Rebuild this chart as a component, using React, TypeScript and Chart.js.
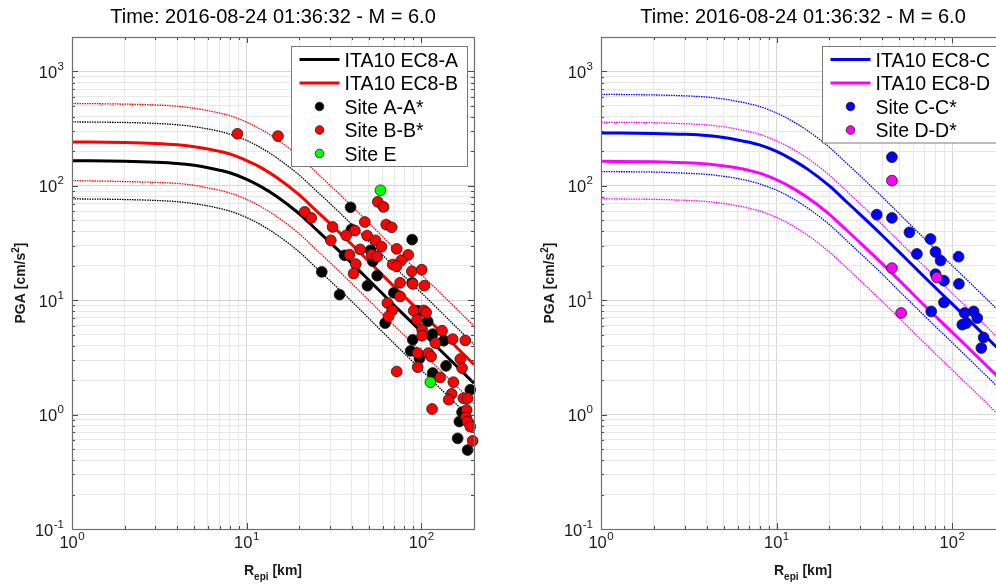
import { useEffect, useRef } from 'react';
import Chart from 'chart.js/auto';
import type { ChartDataset, Plugin } from 'chart.js';

type Point = [number, number];

const FONT = '"Liberation Sans", Arial, Helvetica, sans-serif';
const TITLE = 'Time: 2016-08-24 01:36:32 - M = 6.0';

// grid / tick positions
const xGridValues = [1, 2, 3, 4, 5, 6, 7, 8, 9, 10, 20, 30, 40, 50, 60, 70, 80, 90, 100, 200];
const yGridValues = [
  0.1, 0.2, 0.3, 0.4, 0.5, 0.6, 0.7, 0.8, 0.9,
  1, 2, 3, 4, 5, 6, 7, 8, 9,
  10, 20, 30, 40, 50, 60, 70, 80, 90,
  100, 200, 300, 400, 500, 600, 700, 800, 900,
  1000, 2000,
];
const xLabelValues = [1, 10, 100];
const xLabelExponents = ['0', '1', '2'];
const yLabelValues = [0.1, 1, 10, 100, 1000];
const yLabelExponents = ['-1', '0', '1', '2', '3'];

// distances [km] where the ITA10 curves were read
const curveDistances = [1, 2, 3, 4, 5, 6, 7, 8, 10, 12, 15, 20, 25, 30, 40, 50, 70, 100, 150, 200];

const ec8A = [166, 164, 161, 157, 151, 144, 137, 130, 114, 99, 80, 57, 41.5, 32, 21, 15, 9.0, 5.3, 2.9, 1.88];
const ec8APlus = [362, 358, 351, 342, 329, 314, 299, 283, 249, 216, 174, 124, 90.5, 70, 45.8, 32.7, 19.6, 11.6, 6.32, 4.1];
const ec8AMinus = [76.9, 75.9, 74.5, 72.7, 69.9, 66.7, 63.4, 60.2, 52.8, 45.8, 37.0, 26.4, 19.2, 14.8, 9.72, 6.95, 4.17, 2.45, 1.34, 0.87];
const ec8B = [242, 239, 235, 229, 220, 210, 200, 190, 166, 145, 117, 83.2, 60.6, 46.7, 30.7, 21.9, 13.1, 7.74, 4.23, 2.74];
const ec8BPlus = [525, 518, 509, 496, 477, 455, 433, 411, 360, 313, 253, 180, 131, 101, 66.4, 47.4, 28.4, 16.7, 9.16, 5.94];
const ec8BMinus = [111, 109, 107, 105, 101, 96, 91.4, 86.7, 76.0, 66.0, 53.4, 38.0, 27.7, 21.3, 14.0, 10.0, 6.0, 3.54, 1.93, 1.25];
const ec8C = [290, 287, 282, 275, 264, 252, 240, 228, 200, 173, 140, 99.8, 72.6, 56, 36.8, 26.3, 15.8, 9.28, 5.08, 3.29];
const ec8CPlus = [631, 623, 612, 597, 574, 547, 521, 494, 433, 376, 304, 217, 158, 122, 79.8, 57, 34.2, 20.1, 11.0, 7.14];
const ec8CMinus = [133, 132, 129, 126, 121, 116, 110, 104, 91.5, 79.5, 64.2, 45.8, 33.3, 25.7, 16.9, 12.0, 7.23, 4.26, 2.33, 1.51];
const ec8D = [164, 162, 159, 155, 149, 143, 136, 129, 113, 98, 79, 56.4, 41.1, 31.7, 20.8, 14.9, 8.9, 5.25, 2.87, 1.86];
const ec8DPlus = [360, 356, 349, 341, 328, 312, 297, 282, 247, 215, 174, 124, 90.1, 69.4, 45.6, 32.6, 19.5, 11.5, 6.29, 4.08];
const ec8DMinus = [77.0, 76.1, 74.7, 72.8, 70.1, 66.8, 63.6, 60.3, 52.9, 45.9, 37.1, 26.4, 19.3, 14.8, 9.74, 6.96, 4.18, 2.46, 1.35, 0.87];

// recorded PGA [Repi km, cm/s2]
const siteAA: Point[] = [
  [39.3, 64.9], [39.8, 41.7], [88.5, 33.9], [51.1, 27.3], [36.3, 24.7], [52.7, 21.9],
  [26.9, 17.7], [55.8, 16.4], [88.5, 14.2], [49.1, 13.4], [34.0, 11.2], [69.5, 11.6],
  [95.2, 8.09], [62.0, 6.31], [108.7, 6.52], [116.1, 5.06], [89.2, 4.51], [134.1, 4.42],
  [86.9, 3.61], [97.5, 3.1], [138.4, 2.67], [116.1, 2.31], [190.5, 1.65], [170.9, 1.05],
  [164.9, 0.87], [161.2, 0.62], [183.9, 0.49],
];
const siteBB: Point[] = [
  [8.85, 285], [15.1, 272], [56.3, 72.4], [60.7, 65.4], [21.5, 59.2], [23.4, 52.4],
  [47.4, 48.3], [62.9, 45.8], [67.6, 43.4], [31.0, 43.7], [41.6, 40.6], [37.1, 36.9],
  [48.9, 36.7], [30.3, 33.4], [54.6, 33.4], [44.6, 27.8], [59.1, 29.4], [72.2, 28.1],
  [38.8, 25.0], [52.0, 25.0], [55.8, 24.0], [84.0, 24.9], [76.5, 22.2], [68.5, 20.5],
  [42.1, 20.7], [72.0, 19.8], [88.1, 17.9], [100.4, 18.5], [40.9, 17.1], [89.2, 13.9],
  [104.0, 13.4], [75.5, 14.2], [75.5, 10.8], [63.9, 9.45], [68.0, 8.14], [64.8, 7.21],
  [90.4, 8.09], [103.1, 8.14], [106.4, 7.82], [94.5, 6.75], [100.9, 5.52], [131.3, 5.41],
  [100.9, 4.89], [120.2, 4.22], [151.0, 4.57], [178.3, 4.45], [95.2, 3.45], [109.6, 3.45],
  [113.6, 3.22], [167.1, 3.06], [170.9, 2.55], [95.2, 2.6], [72.2, 2.38], [127.9, 2.11],
  [152.4, 1.92], [149.0, 1.52], [143.2, 1.35], [173.8, 1.39], [183.9, 1.39], [115.1, 1.12],
  [181.5, 1.1], [179.9, 0.95], [183.9, 0.87], [190.5, 0.785], [196.5, 0.59],
];
const siteE: Point[] = [[58.3, 91.4], [112.6, 1.92]];
const siteCC: Point[] = [
  [45.4, 178], [37.2, 56.0], [45.4, 52.4], [57.1, 39.2], [75.3, 34.3], [63.0, 25.4],
  [80.4, 26.4], [85.9, 22.2], [108.8, 24.0], [80.4, 16.9], [89.8, 14.8], [109.3, 13.9],
  [89.8, 9.57], [76.0, 7.98], [117.7, 7.73], [132.5, 7.98], [139.0, 6.98], [114.2, 6.11],
  [120.3, 6.31], [151.1, 4.72], [146.6, 3.82],
];
const siteDD: Point[] = [[45.4, 111], [45.4, 19.1], [81.9, 15.8], [51.2, 7.73]];

interface CurveSet { mean: number[]; upper: number[]; lower: number[]; color: string }
interface SiteSet { points: Point[]; color: string }
interface LegendItem { label: string; color: string; kind: 'line' | 'dot' }
interface PanelSpec {
  left: number;
  width: number;
  padLeft: number;
  padRight: number;
  curves: CurveSet[];
  sites: SiteSet[];
  legend: LegendItem[];
}

const CANVAS_HEIGHT = 587;
const PLOT_TOP = 37;
const X_AXIS_HEIGHT = 58;
const Y_AXIS_WIDTH = 72;

const leftPanel: PanelSpec = {
  left: 0,
  width: 498,
  padLeft: 0,
  padRight: 24,
  curves: [
    { mean: ec8A, upper: ec8APlus, lower: ec8AMinus, color: '#000000' },
    { mean: ec8B, upper: ec8BPlus, lower: ec8BMinus, color: '#ff0000' },
  ],
  sites: [
    { points: siteAA, color: '#000000' },
    { points: siteBB, color: '#ff0000' },
    { points: siteE, color: '#00ff00' },
  ],
  legend: [
    { label: 'ITA10 EC8-A', color: '#000000', kind: 'line' },
    { label: 'ITA10 EC8-B', color: '#ff0000', kind: 'line' },
    { label: 'Site A-A*', color: '#000000', kind: 'dot' },
    { label: 'Site B-B*', color: '#ff0000', kind: 'dot' },
    { label: 'Site E', color: '#00ff00', kind: 'dot' },
  ],
};

const rightPanel: PanelSpec = {
  left: 498,
  width: 520,
  padLeft: 31,
  padRight: 13,
  curves: [
    { mean: ec8C, upper: ec8CPlus, lower: ec8CMinus, color: '#0000ff' },
    { mean: ec8D, upper: ec8DPlus, lower: ec8DMinus, color: '#ff00ff' },
  ],
  sites: [
    { points: siteCC, color: '#0000ff' },
    { points: siteDD, color: '#ff00ff' },
  ],
  legend: [
    { label: 'ITA10 EC8-C', color: '#0000ff', kind: 'line' },
    { label: 'ITA10 EC8-D', color: '#ff00ff', kind: 'line' },
    { label: 'Site C-C*', color: '#0000ff', kind: 'dot' },
    { label: 'Site D-D*', color: '#ff00ff', kind: 'dot' },
  ],
};

function isDecade(v: number): boolean {
  const l = Math.log10(v);
  return Math.abs(l - Math.round(l)) < 1e-9;
}

function gridColor(ctx: any): string {
  const v = ctx.tick ? ctx.tick.value : 1;
  return isDecade(v) ? '#d6d6d6' : '#e8e8e8';
}

function drawPower(
  ctx: CanvasRenderingContext2D,
  x: number,
  baseline: number,
  exp: string,
  align: 'center' | 'right',
) {
  const baseFont = `16.5px ${FONT}`;
  const supFont = `11.5px ${FONT}`;
  ctx.font = baseFont;
  const bw = ctx.measureText('10').width;
  ctx.font = supFont;
  const ew = ctx.measureText(exp).width;
  const total = bw + ew + 0.5;
  const x0 = align === 'center' ? x - total / 2 : x - total;
  ctx.textAlign = 'left';
  ctx.textBaseline = 'alphabetic';
  ctx.font = baseFont;
  ctx.fillText('10', x0, baseline);
  ctx.font = supFont;
  ctx.fillText(exp, x0 + bw + 0.5, baseline - 8);
}

// draws text parts [text, size, shift] one after another, centred on cx
function drawParts(
  ctx: CanvasRenderingContext2D,
  parts: [string, number, number][],
  cx: number,
  baseline: number,
) {
  let total = 0;
  for (const [t, size] of parts) {
    ctx.font = `bold ${size}px ${FONT}`;
    total += ctx.measureText(t).width;
  }
  let x = cx - total / 2;
  ctx.textAlign = 'left';
  ctx.textBaseline = 'alphabetic';
  for (const [t, size, shift] of parts) {
    ctx.font = `bold ${size}px ${FONT}`;
    ctx.fillText(t, x, baseline + shift);
    x += ctx.measureText(t).width;
  }
}

function makeDecor(panel: PanelSpec): Plugin<'scatter'> {
  return {
    id: 'decor',
    afterDraw(chart) {
      const { ctx, chartArea: a } = chart;
      const xs = chart.scales.x;
      const ys = chart.scales.y;
      ctx.save();

      // inward tick marks on all four sides
      ctx.strokeStyle = '#4a4a4a';
      ctx.lineWidth = 1;
      ctx.beginPath();
      for (const v of xGridValues) {
        const px = Math.round(xs.getPixelForValue(v)) + 0.5;
        const len = isDecade(v) ? 6 : 3;
        ctx.moveTo(px, a.bottom);
        ctx.lineTo(px, a.bottom - len);
        ctx.moveTo(px, a.top);
        ctx.lineTo(px, a.top + len);
      }
      for (const v of yGridValues) {
        const py = Math.round(ys.getPixelForValue(v)) + 0.5;
        const len = isDecade(v) ? 6 : 3;
        ctx.moveTo(a.left, py);
        ctx.lineTo(a.left + len, py);
        ctx.moveTo(a.right, py);
        ctx.lineTo(a.right - len, py);
      }
      ctx.stroke();

      // axes box
      ctx.strokeStyle = '#6e6e6e';
      ctx.lineWidth = 1.2;
      ctx.strokeRect(
        Math.round(a.left) + 0.5,
        Math.round(a.top) + 0.5,
        Math.round(a.right - a.left),
        Math.round(a.bottom - a.top),
      );

      // tick labels
      ctx.fillStyle = '#1a1a1a';
      xLabelValues.forEach((v, i) => {
        drawPower(ctx, xs.getPixelForValue(v), a.bottom + 19, xLabelExponents[i], 'center');
      });
      yLabelValues.forEach((v, i) => {
        drawPower(ctx, a.left - 8, ys.getPixelForValue(v) + 6.5, yLabelExponents[i], 'right');
      });

      // axis titles
      const cx = (a.left + a.right) / 2;
      drawParts(ctx, [['R', 14, 0], ['epi', 10, 5], [' [km]', 14, 0]], cx, a.bottom + 46);
      ctx.save();
      ctx.translate(a.left - 47, (a.top + a.bottom) / 2);
      ctx.rotate(-Math.PI / 2);
      drawParts(ctx, [['PGA [cm/s', 14, 0], ['2', 10, -6], [']', 14, 0]], 0, 0);
      ctx.restore();

      // title
      ctx.fillStyle = '#000000';
      ctx.font = `20px ${FONT}`;
      ctx.textAlign = 'center';
      ctx.textBaseline = 'alphabetic';
      ctx.fillText(TITLE, cx, 23);

      // legend
      const items = panel.legend;
      const boxW = 176;
      const pitch = 23.5;
      const boxH = 26 + (items.length - 1) * pitch;
      const bx = Math.round(a.right - 7 - boxW) + 0.5;
      const by = Math.round(a.top + 9) + 0.5;
      ctx.fillStyle = '#ffffff';
      ctx.fillRect(bx, by, boxW, boxH);
      ctx.strokeStyle = '#7a7a7a';
      ctx.lineWidth = 1;
      ctx.strokeRect(bx, by, boxW, boxH);
      items.forEach((it, i) => {
        const cy = by + 13 + i * pitch;
        if (it.kind === 'line') {
          ctx.strokeStyle = it.color;
          ctx.lineWidth = 3;
          ctx.beginPath();
          ctx.moveTo(bx + 8, cy);
          ctx.lineTo(bx + 48, cy);
          ctx.stroke();
        } else {
          ctx.beginPath();
          ctx.arc(bx + 28, cy, 4.3, 0, Math.PI * 2);
          ctx.fillStyle = it.color;
          ctx.fill();
          ctx.strokeStyle = '#1a1a1a';
          ctx.lineWidth = 0.8;
          ctx.stroke();
        }
        ctx.fillStyle = '#000000';
        ctx.font = `19.5px ${FONT}`;
        ctx.textAlign = 'left';
        ctx.fillText(it.label, bx + 53, cy + 7);
      });

      ctx.restore();
    },
  };
}

function curveData(values: number[]) {
  return curveDistances.map((x, i) => ({ x, y: values[i] }));
}

function buildDatasets(panel: PanelSpec): ChartDataset<'scatter'>[] {
  const datasets: ChartDataset<'scatter'>[] = [];
  panel.curves.forEach((c) => {
    for (const band of [c.upper, c.lower]) {
      datasets.push({
        data: curveData(band),
        showLine: true,
        borderColor: c.color,
        borderWidth: 1.3,
        borderDash: [1.5, 1],
        pointRadius: 0,
        cubicInterpolationMode: 'monotone',
        order: 30,
      } as ChartDataset<'scatter'>);
    }
  });
  panel.curves.forEach((c) => {
    datasets.push({
      data: curveData(c.mean),
      showLine: true,
      borderColor: c.color,
      borderWidth: 3,
      pointRadius: 0,
      cubicInterpolationMode: 'monotone',
      order: 20,
    } as ChartDataset<'scatter'>);
  });
  panel.sites.forEach((s, i) => {
    datasets.push({
      data: s.points.map(([x, y]) => ({ x, y })),
      backgroundColor: s.color,
      borderColor: '#1a1a1a',
      borderWidth: 0.8,
      pointRadius: 5.4,
      showLine: false,
      clip: false,
      order: 10 - i,
    } as ChartDataset<'scatter'>);
  });
  return datasets;
}

function PgaPanel({ panel }: { panel: PanelSpec }) {
  const canvasRef = useRef<HTMLCanvasElement | null>(null);

  useEffect(() => {
    if (!canvasRef.current) {
      return;
    }
    const chart = new Chart(canvasRef.current, {
      type: 'scatter',
      data: { datasets: buildDatasets(panel) },
      options: {
        animation: false,
        responsive: false,
        events: [],
        layout: {
          padding: { left: panel.padLeft, right: panel.padRight, top: PLOT_TOP, bottom: 0 },
        },
        plugins: {
          legend: { display: false },
          tooltip: { enabled: false },
          title: { display: false },
        },
        scales: {
          x: {
            type: 'logarithmic',
            min: 1,
            max: 200,
            ticks: { display: false },
            grid: { color: gridColor, drawTicks: false, lineWidth: 1 },
            border: { display: false },
            afterBuildTicks: (scale) => {
              scale.ticks = xGridValues.map((value) => ({ value }));
            },
            afterFit: (scale) => {
              scale.height = X_AXIS_HEIGHT;
            },
          },
          y: {
            type: 'logarithmic',
            min: 0.1,
            max: 2000,
            ticks: { display: false },
            grid: { color: gridColor, drawTicks: false, lineWidth: 1 },
            border: { display: false },
            afterBuildTicks: (scale) => {
              scale.ticks = yGridValues.map((value) => ({ value }));
            },
            afterFit: (scale) => {
              scale.width = Y_AXIS_WIDTH;
            },
          },
        },
      },
      plugins: [makeDecor(panel)],
    });

    return () => {
      chart.destroy();
    };
  }, [panel]);

  return (
    <canvas
      ref={canvasRef}
      width={panel.width}
      height={CANVAS_HEIGHT}
      style={{
        position: 'absolute',
        left: panel.left,
        top: 0,
        width: panel.width,
        height: CANVAS_HEIGHT,
      }}
    />
  );
}

export default function App() {
  return (
    <div
      style={{
        position: 'fixed',
        left: 0,
        top: 0,
        width: 996,
        height: 587,
        overflow: 'hidden',
        background: '#ffffff',
      }}
    >
      <PgaPanel panel={leftPanel} />
      <PgaPanel panel={rightPanel} />
    </div>
  );
}
